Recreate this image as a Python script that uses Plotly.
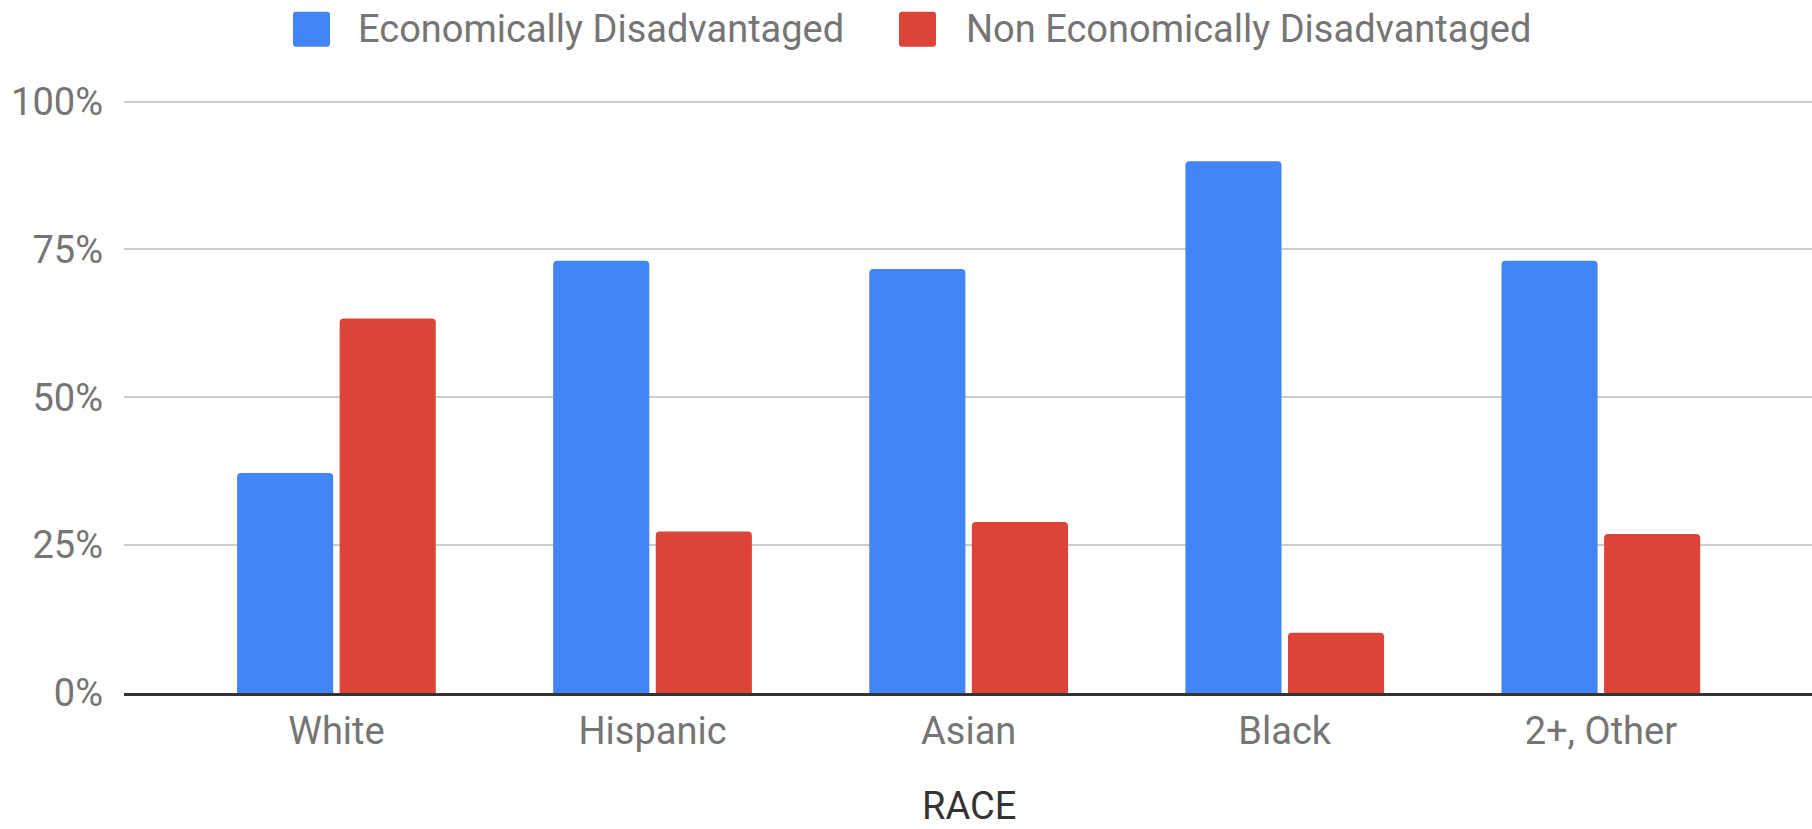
import plotly.graph_objects as go

categories = ["White", "Hispanic", "Asian", "Black", "2+, Other"]
econ_disadv = [37.2, 73.1, 71.7, 89.9, 73.1]
non_econ_disadv = [63.3, 27.3, 28.9, 10.2, 26.9]
series_names = ["Economically Disadvantaged", "Non Economically Disadvantaged"]
x_title = "RACE"
y_ticks = [0, 25, 50, 75, 100]
y_ticktext = ["0%", "25%", "50%", "75%", "100%"]

BLUE = "#4285F4"
RED = "#DB4437"
FS = 38
W, H = 1812, 829
Y_TOP = 100.6
ML, MR, MB = 124, 0, 136
PH = (H - MB - 101.7) * Y_TOP / 100
MT = H - MB - PH
PW = W - ML - MR

fig = go.Figure()
fig.add_trace(go.Bar(x=categories, y=econ_disadv, name=series_names[0],
                     marker=dict(color=BLUE, line=dict(width=0)), showlegend=False))
fig.add_trace(go.Bar(x=categories, y=non_econ_disadv, name=series_names[1],
                     marker=dict(color=RED, line=dict(width=0)), showlegend=False))

def px_x(p):
    return (p - ML) / PW

def px_y(p):
    return (H - MB - p) / PH

def rounded_square(x0, y0, x1, y1, r=3):
    X0, X1 = px_x(x0), px_x(x1)
    Y0, Y1 = px_y(y0), px_y(y1)
    rx, ry = r / PW, r / PH
    return (f"M {X0+rx},{Y0} L {X1-rx},{Y0} Q {X1},{Y0} {X1},{Y0-ry} "
            f"L {X1},{Y1+ry} Q {X1},{Y1} {X1-rx},{Y1} L {X0+rx},{Y1} "
            f"Q {X0},{Y1} {X0},{Y1+ry} L {X0},{Y0-ry} Q {X0},{Y0} {X0+rx},{Y0} Z")

legend_items = [(293, 330, 356, BLUE), (899, 936, 964, RED)]
shapes = []
annotations = []
for (sx0, sx1, tx, col), name in zip(legend_items, series_names):
    shapes.append(dict(type="path", xref="paper", yref="paper",
                       path=rounded_square(sx0, 12, sx1, 47), fillcolor=col,
                       line=dict(width=0)))
    annotations.append(dict(text=name, xref="paper", yref="paper",
                            x=px_x(tx), y=px_y(29), xanchor="left", yanchor="middle",
                            showarrow=False,
                            font=dict(family="Roboto", size=FS, color="#757575")))

# x-axis title (placed as annotation for exact position below the tick labels)
annotations.append(dict(text=x_title, xref="paper", yref="paper",
                        x=px_x(969), y=px_y(806), xanchor="center", yanchor="middle",
                        showarrow=False,
                        font=dict(family="Roboto", size=FS, color="#333333")))

fig.update_layout(
    width=W, height=H,
    margin=dict(l=ML, r=MR, t=MT, b=MB, pad=0, autoexpand=False),
    paper_bgcolor="white", plot_bgcolor="white",
    barmode="group", bargap=0.351, bargroupgap=0.063,
    barcornerradius=4,
    font=dict(family="Roboto", size=FS, color="#757575"),
    shapes=shapes, annotations=annotations,
    xaxis=dict(range=[-0.672, 4.668], showgrid=False, zeroline=False,
               showline=True, linecolor="#333333", linewidth=2.5,
               ticks="", ticklabelstandoff=3, automargin=False,
               tickfont=dict(family="Roboto", size=FS, color="#757575")),
    yaxis=dict(range=[0, Y_TOP], tickvals=y_ticks, ticktext=y_ticktext,
               showgrid=True, gridcolor="#cccccc", gridwidth=1.5, automargin=False,
               zeroline=False, showline=False, ticks="", ticklabelstandoff=20,
               tickfont=dict(family="Roboto", size=FS, color="#757575")),
)

fig.write_html("out.html")
